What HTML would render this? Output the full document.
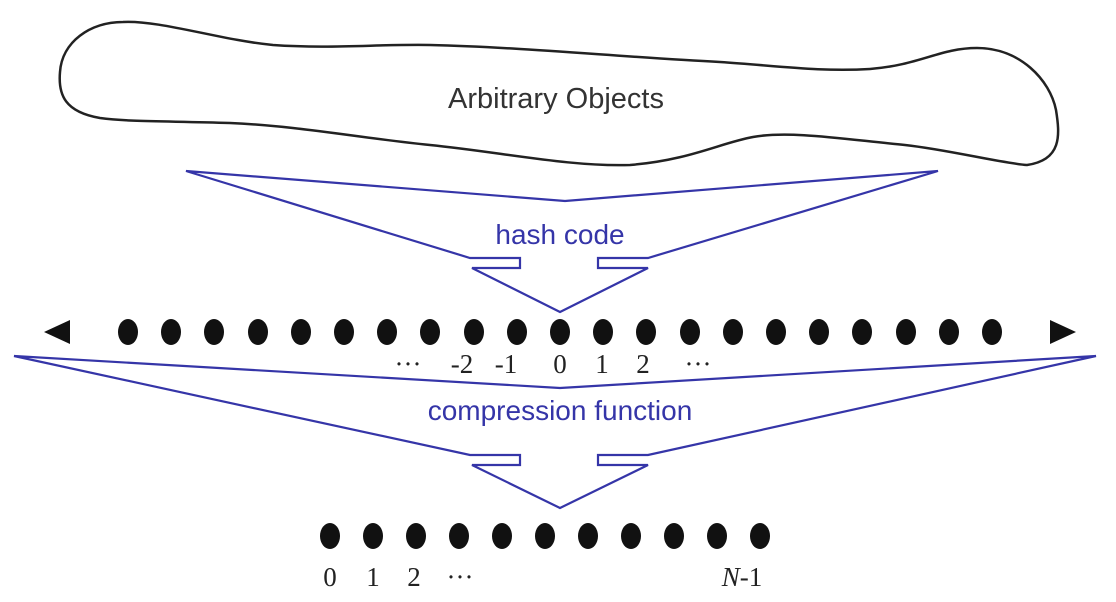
<!DOCTYPE html>
<html><head><style>
html,body{margin:0;padding:0;background:#fff;}
svg{display:block;}
</style></head><body>
<svg width="1116" height="602" viewBox="0 0 1116 602" xmlns="http://www.w3.org/2000/svg">
<path d="M123,22 C160,20 220,40 273,45 C330,49 380,44 430,45 C520,47 620,57 720,62 C780,66 820,72 870,69 C920,65 940,48 977,48 C1020,48 1050,80 1056,110 C1060,135 1062,160 1027,165 C1000,163 950,150 905,145 C850,140 790,130 753,137 C720,143 690,160 630,165 C570,167 500,152 430,145 C360,138 300,126 230,123 C170,121 130,122 100,118 C65,112 58,95 60,72 C62,42 90,22 123,22 Z" fill="none" stroke="#222" stroke-width="2.5"/>
<text x="556" y="108" font-family="Liberation Sans, sans-serif" font-size="29" text-anchor="middle" fill="#333">Arbitrary Objects</text>

<path d="M186,171 L565,201 L938,171 L648,258 L598,258 L598,268 L648,268 L560,312 L472,268 L520,268 L520,258 L470,258 Z" fill="none" stroke="#3535a8" stroke-width="2.2" stroke-linejoin="miter"/>
<text x="560" y="244" font-family="Liberation Sans, sans-serif" font-size="28" text-anchor="middle" fill="#3535a8">hash code</text>

<g fill="#111">
<polygon points="44,332 70,320 70,344"/>
<polygon points="1076,332 1050,320 1050,344"/>
<ellipse cx="128" cy="332" rx="10" ry="13"/><ellipse cx="171" cy="332" rx="10" ry="13"/><ellipse cx="214" cy="332" rx="10" ry="13"/><ellipse cx="258" cy="332" rx="10" ry="13"/><ellipse cx="301" cy="332" rx="10" ry="13"/><ellipse cx="344" cy="332" rx="10" ry="13"/><ellipse cx="387" cy="332" rx="10" ry="13"/><ellipse cx="430" cy="332" rx="10" ry="13"/><ellipse cx="474" cy="332" rx="10" ry="13"/><ellipse cx="517" cy="332" rx="10" ry="13"/><ellipse cx="560" cy="332" rx="10" ry="13"/><ellipse cx="603" cy="332" rx="10" ry="13"/><ellipse cx="646" cy="332" rx="10" ry="13"/><ellipse cx="690" cy="332" rx="10" ry="13"/><ellipse cx="733" cy="332" rx="10" ry="13"/><ellipse cx="776" cy="332" rx="10" ry="13"/><ellipse cx="819" cy="332" rx="10" ry="13"/><ellipse cx="862" cy="332" rx="10" ry="13"/><ellipse cx="906" cy="332" rx="10" ry="13"/><ellipse cx="949" cy="332" rx="10" ry="13"/><ellipse cx="992" cy="332" rx="10" ry="13"/>
<ellipse cx="330" cy="536" rx="10" ry="13"/><ellipse cx="373" cy="536" rx="10" ry="13"/><ellipse cx="416" cy="536" rx="10" ry="13"/><ellipse cx="459" cy="536" rx="10" ry="13"/><ellipse cx="502" cy="536" rx="10" ry="13"/><ellipse cx="545" cy="536" rx="10" ry="13"/><ellipse cx="588" cy="536" rx="10" ry="13"/><ellipse cx="631" cy="536" rx="10" ry="13"/><ellipse cx="674" cy="536" rx="10" ry="13"/><ellipse cx="717" cy="536" rx="10" ry="13"/><ellipse cx="760" cy="536" rx="10" ry="13"/>
</g>

<g font-family="Liberation Serif, serif" font-size="27" fill="#222" text-anchor="middle">
<text x="408" y="373">···</text>
<text x="462" y="373">-2</text>
<text x="506" y="373">-1</text>
<text x="560" y="373">0</text>
<text x="602" y="373">1</text>
<text x="643" y="373">2</text>
<text x="698" y="373">···</text>
<text x="330" y="586">0</text>
<text x="373" y="586">1</text>
<text x="414" y="586">2</text>
<text x="460" y="586">···</text>
<text x="742" y="586"><tspan font-style="italic">N</tspan>-1</text>
</g>

<path d="M14,356 L560,388 L1096,356 L648,455 L598,455 L598,465 L648,465 L560,508 L472,465 L520,465 L520,455 L470,455 Z" fill="none" stroke="#3535a8" stroke-width="2.2"/>
<text x="560" y="420" font-family="Liberation Sans, sans-serif" font-size="28" text-anchor="middle" fill="#3535a8">compression function</text>
</svg>
</body></html>
